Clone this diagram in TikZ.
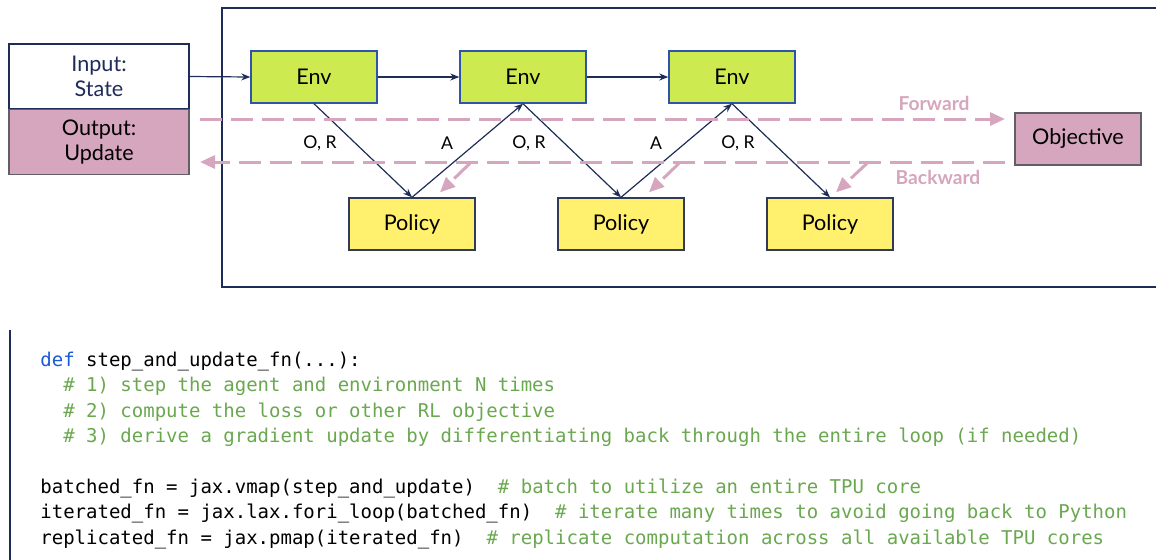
\documentclass[tikz,border=0pt]{standalone}
\usepackage{fontspec}
\setmainfont{Lato}
\setmonofont{DejaVu Sans Mono}
\usetikzlibrary{calc,arrows.meta}
\definecolor{envgreen}{RGB}{205,235,80}
\definecolor{envline}{RGB}{48,84,170}
\definecolor{polyellow}{RGB}{255,240,110}
\definecolor{polline}{RGB}{50,58,90}
\definecolor{gradpink}{RGB}{213,166,189}
\definecolor{boxgrey}{RGB}{95,95,100}
\definecolor{navy}{RGB}{30,44,88}
\definecolor{cmtgreen}{RGB}{106,168,79}
\definecolor{defblue}{RGB}{26,90,214}
\begin{document}
\begin{tikzpicture}[x=0.5pt,y=-0.5pt,
  box/.style={minimum width=63pt,minimum height=26pt,line width=0.7pt,
    font=\fontsize{10.8}{12.2}\selectfont},
  envbox/.style={box,draw=envline,fill=envgreen},
  polbox/.style={box,draw=polline,fill=polyellow},
  iobox/.style={box,minimum width=90pt,minimum height=32.5pt,align=center},
  flow/.style={draw=navy,line width=0.6pt,-{Stealth[length=4.5pt,width=3.5pt]}},
  grad/.style={draw=gradpink,line width=1.5pt,dash pattern=on 11pt off 4.5pt,
    -{Triangle[length=7.5pt,width=6.5pt]}},
  lbl/.style={font=\fontsize{8.8}{10}\selectfont},
  gradlbl/.style={text=gradpink,font=\fontsize{9.6}{10}\selectfont\bfseries}]
  \useasboundingbox (0,0) rectangle (1156,559);
  \draw[navy,line width=0.8pt] (222,8) rectangle (1170,287);

  \node[iobox,draw=navy,fill=white,text=navy] (input) at (99,76.5) {Input:\\State};
  \node[iobox,draw=boxgrey,fill=gradpink] (output) at (99,142) {Output:\\Update};
  \node[box,draw=boxgrey,fill=gradpink] (obj) at (1078,139) {Objective};

  \foreach \i/\x in {1/314,2/523,3/732}{
    \node[envbox] (env\i) at (\x,77) {Env};
    \node[polbox] (pol\i) at (\x+98,224) {Policy};
  }

  \draw[flow] (input.east) -- (env1.west);
  \draw[flow] (env1.east) -- (env2.west);
  \draw[flow] (env2.east) -- (env3.west);
  \draw[flow] (env1.south) -- (pol1.north);
  \draw[flow] (pol1.north) -- (env2.south);
  \draw[flow] (env2.south) -- (pol2.north);
  \draw[flow] (pol2.north) -- (env3.south);
  \draw[flow] (env3.south) -- (pol3.north);

  \node[lbl] (or1) at (320,143) {O, R};
  \node[lbl] (a1) at (447,143) {A};
  \node[lbl] (or2) at (529,143) {O, R};
  \node[lbl] (a2) at (656,143) {A};
  \node[lbl] (or3) at (738,143) {O, R};

  \coordinate (fwdstart) at (200,119);
  \coordinate (fwdend) at (1005,119);
  \coordinate (bwdstart) at (1005,162);
  \coordinate (bwdend) at (200,162);
  \draw[grad] (fwdstart) -- (fwdend);
  \draw[grad] (bwdstart) -- (bwdend);
  \draw[grad] ($(pol1.north)+(58,-34)$) -- ($(pol1.north)+(28,-5)$);
  \draw[grad] ($(pol2.north)+(58,-34)$) -- ($(pol2.north)+(28,-5)$);
  \draw[grad] ($(pol3.north)+(37,-34)$) -- ($(pol3.north)+(6,-5)$);
  \node[gradlbl] (fwdlbl) at (934,103) {Forward};
  \node[gradlbl] (bwdlbl) at (938,177) {Backward};

  \draw[navy,line width=0.8pt] (10,330) -- (10,565);
  \node[anchor=north west,inner sep=0pt,align=left,
    font=\fontsize{9.5}{12.7}\selectfont\ttfamily] (code) at (40,351.5) {%
    {\color{defblue}def} step\_and\_update\_fn(...):\\
    \phantom{xx}{\color{cmtgreen}\# 1) step the agent and environment N times}\\
    \phantom{xx}{\color{cmtgreen}\# 2) compute the loss or other RL objective}\\
    \phantom{xx}{\color{cmtgreen}\# 3) derive a gradient update by differentiating back through the entire loop (if needed)}\\
    \mbox{}\\
    batched\_fn = jax.vmap(step\_and\_update)~~{\color{cmtgreen}\# batch to utilize an entire TPU core}\\
    iterated\_fn = jax.lax.fori\_loop(batched\_fn)~~{\color{cmtgreen}\# iterate many times to avoid going back to Python}\\
    replicated\_fn = jax.pmap(iterated\_fn)~~{\color{cmtgreen}\# replicate computation across all available TPU cores}};
\end{tikzpicture}
\end{document}
